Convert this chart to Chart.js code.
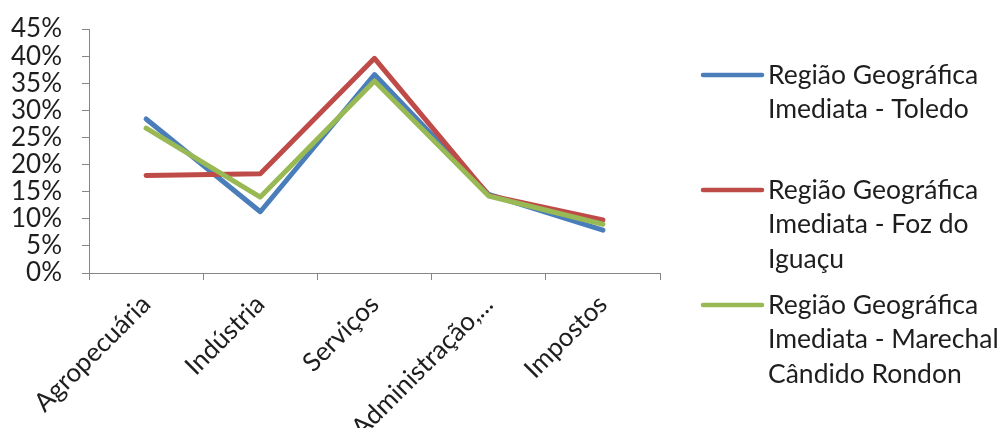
<!DOCTYPE html>
<html>
<head>
<meta charset="utf-8">
<script src="https://cdn.jsdelivr.net/npm/chart.js@4.4.1/dist/chart.umd.min.js"></script>
<style>
  html, body { margin: 0; padding: 0; background: #fff; }
  #wrap { position: relative; width: 1007px; height: 428px; }
</style>
</head>
<body>
<div id="wrap"><canvas id="chart" width="1007" height="428"></canvas></div>
<script>
// Sectors (x axis)
const categories = ['Agropecuária', 'Indústria', 'Serviços', 'Administração,...', 'Impostos'];

// Share of each sector, per region
const toledo = [0.284, 0.113, 0.366, 0.145, 0.079];
const fozDoIguacu = [0.180, 0.183, 0.396, 0.143, 0.098];
const marechalCandidoRondon = [0.267, 0.140, 0.354, 0.142, 0.090];

// Legend text, one entry per region, broken into lines
const legendLines = [
  ['Região Geográfica', 'Imediata - Toledo'],
  ['Região Geográfica', 'Imediata - Foz do', 'Iguaçu'],
  ['Região Geográfica', 'Imediata - Marechal', 'Cândido Rondon']
];

// Y axis range
const yMin = 0, yMax = 0.45, yStep = 0.05;

const seriesColors = ['#4A7EBB', '#BE4B48', '#98B954'];
const FONT = 'Lato, "Liberation Sans", sans-serif';
const TEXT = '#1e1e1e';
const AXIS = '#868686';

const seriesData = [toledo, fozDoIguacu, marechalCandidoRondon];

// Multi-line legend on the right side
const sideLegend = {
  id: 'sideLegend',
  afterDraw(chart) {
    const ctx = chart.ctx;
    const x0 = chart.chartArea.right + 43;
    const lineLen = 59;
    const top = 75, entryGap = 115, lineGap = 34.5;
    ctx.save();
    ctx.font = '26.5px ' + FONT;
    ctx.textBaseline = 'middle';
    ctx.textAlign = 'left';
    chart.data.datasets.forEach((ds, i) => {
      const y = top + i * entryGap;
      ctx.strokeStyle = ds.borderColor;
      ctx.lineWidth = 4.5;
      ctx.lineCap = 'round';
      ctx.beginPath();
      ctx.moveTo(x0, y);
      ctx.lineTo(x0 + lineLen, y);
      ctx.stroke();
      ctx.fillStyle = TEXT;
      legendLines[i].forEach((t, j) => ctx.fillText(t, x0 + lineLen + 6, y + j * lineGap));
    });
    ctx.restore();
  }
};

new Chart(document.getElementById('chart'), {
  type: 'line',
  data: {
    labels: categories,
    datasets: seriesData.map((d, i) => ({
      label: legendLines[i].join(' '),
      data: d,
      borderColor: seriesColors[i],
      backgroundColor: seriesColors[i],
      borderWidth: 5,
      pointRadius: 0,
      tension: 0,
      borderJoinStyle: 'round',
      borderCapStyle: 'round',
      order: seriesData.length - i
    }))
  },
  options: {
    responsive: false,
    animation: false,
    devicePixelRatio: 1,
    layout: { padding: { top: 29, right: 347, left: 0, bottom: 0 } },
    plugins: { legend: { display: false }, tooltip: { enabled: false } },
    scales: {
      x: {
        offset: true,
        grid: { offset: true, drawOnChartArea: false, drawTicks: true, tickLength: 7, color: AXIS, lineWidth: 1 },
        border: { color: AXIS, width: 1 },
        ticks: { color: TEXT, font: { family: FONT, size: 26 }, maxRotation: 45, minRotation: 45, padding: 9, autoSkip: false },
        afterFit(s) { s.height = 155; s.paddingLeft = 0; s.paddingRight = 0; }
      },
      y: {
        min: yMin,
        max: yMax,
        grid: { drawOnChartArea: false, drawTicks: true, tickLength: 7, color: AXIS, lineWidth: 1 },
        border: { color: AXIS, width: 1 },
        ticks: {
          stepSize: yStep,
          autoSkip: false,
          color: TEXT,
          font: { family: FONT, size: 26 },
          padding: 20,
          callback: v => Math.round(v * 100) + '%'
        },
        afterFit(s) { s.width = 89; s.paddingTop = 0; s.paddingBottom = 0; }
      }
    }
  },
  plugins: [sideLegend]
});
</script>
</body>
</html>
